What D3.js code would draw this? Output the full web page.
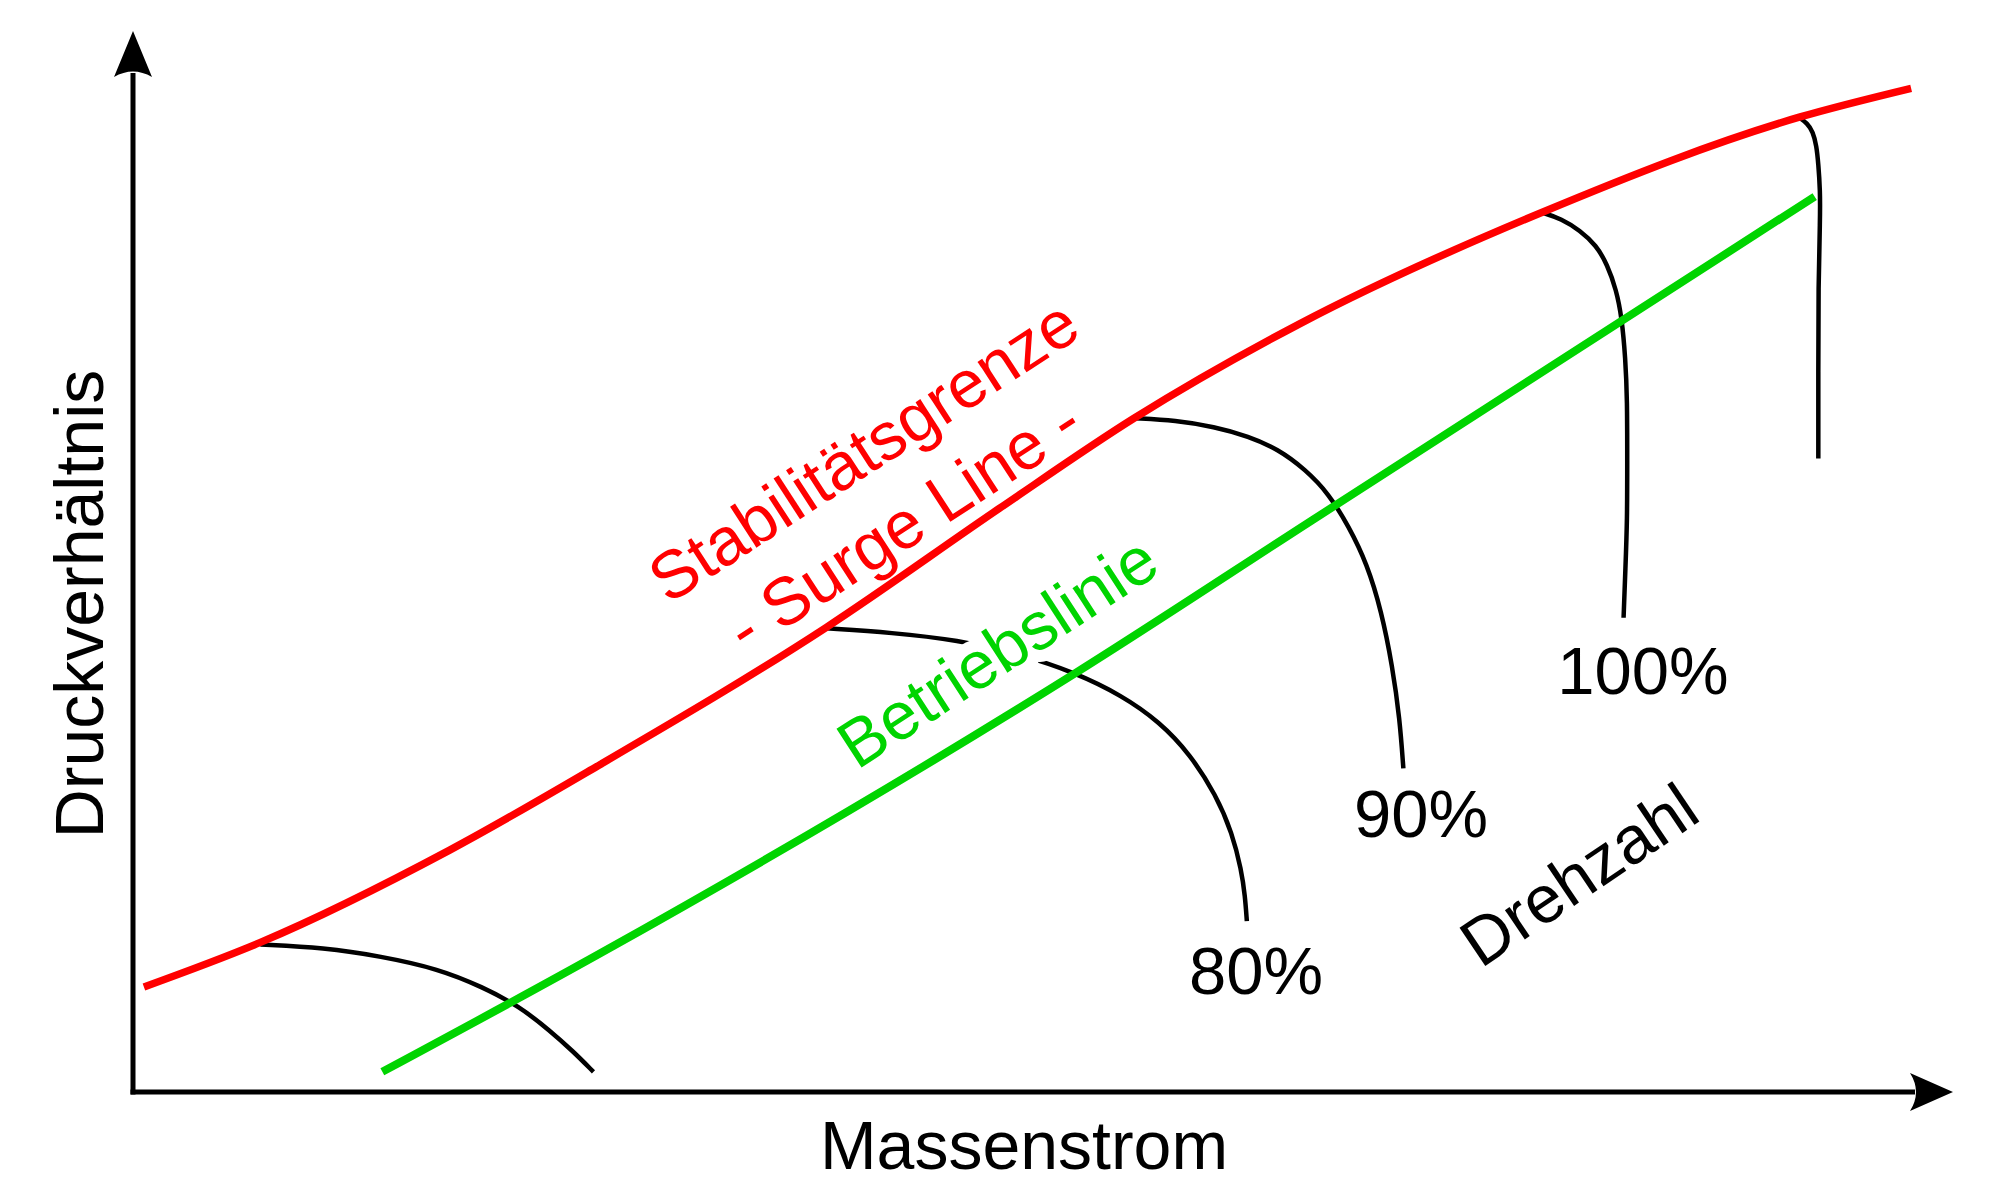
<!DOCTYPE html>
<html>
<head>
<meta charset="utf-8">
<script src="https://cdn.jsdelivr.net/npm/d3@7"></script>
<style>
    html, body { margin: 0; padding: 0; background: #fff; }
    svg { display: block; }
    text { font-family: "Liberation Sans", Arial, Helvetica, sans-serif; }
</style>
</head>
<body>
<div id="chart"></div>
<script>
// Verdichterkennfeld: Druckverhältnis über Massenstrom, beide Achsen relativ (0..100)

// Stabilitätsgrenze (Surge Line)
const surgeX = [0.6, 7.0, 17.4, 25.7, 38.1, 47.6, 55.0, 64.1, 77.4, 91.6, 97.7];
const surgeY = [9.9, 14.1, 22.8, 30.9, 43.8, 55.0, 63.5, 72.4, 82.9, 91.9, 94.6];

// Betriebslinie
const operX = [13.7, 25.7, 51.8, 64.8, 92.4];
const operY = [1.9, 13.1, 39.5, 53.9, 84.4];

// Drehzahllinien
const speedLowX = [7.0, 10.5, 13.6, 16.8, 19.2, 21.2, 22.9, 24.2, 25.3];
const speedLowY = [13.9, 13.6, 12.8, 11.6, 9.9, 8.1, 5.8, 3.8, 1.9];

const speed80X = [38.1, 41.7, 45.3, 48.7, 51.8, 54.3, 56.4, 58.1, 59.5, 60.4, 60.9, 61.1, 61.2];
const speed80Y = [43.7, 43.3, 42.6, 41.3, 39.5, 37.4, 34.9, 31.8, 28.0, 24.4, 20.9, 18.5, 16.1];

const speed90X = [55.0, 57.3, 59.4, 61.3, 62.9, 64.4, 65.7, 66.8, 67.8, 68.6, 69.2, 69.6, 69.8];
const speed90Y = [63.5, 63.3, 62.7, 61.8, 60.6, 58.7, 56.4, 53.3, 49.8, 45.3, 40.1, 35.2, 30.5];

const speed100X = [77.4, 78.5, 79.5, 80.4, 81.0, 81.5, 81.8, 82.0, 82.1, 82.1, 82.1, 82.0, 81.9];
const speed100Y = [82.9, 82.3, 81.2, 79.8, 78.0, 75.6, 73.0, 69.2, 65.2, 59.5, 53.9, 49.3, 44.7];

const speedTopX = [91.5, 92.0, 92.3, 92.5, 92.6, 92.7, 92.7, 92.6, 92.6, 92.6];
const speedTopY = [91.9, 91.3, 90.5, 89.2, 87.5, 85.0, 82.3, 76.0, 67.9, 59.7];

const speedLabels = ['80%', '90%', '100%'];

const width = 2000, height = 1189;
const fontSize = 67;

const svg = d3.select('#chart')
    .append('svg')
    .attr('width', width)
    .attr('height', height)
    .attr('viewBox', `0 0 ${width} ${height}`);

svg.append('rect').attr('width', width).attr('height', height).attr('fill', '#fff');

const x = d3.scaleLinear().domain([0, 100]).range([133, 1953]);
const y = d3.scaleLinear().domain([0, 100]).range([1092, 31]);

const zip = (xs, ys) => xs.map((v, i) => [v, ys[i]]);

// speed lines bend back, so they need a parametric curve
const curvyLine = d3.line()
    .x(d => x(d[0]))
    .y(d => y(d[1]))
    .curve(d3.curveBasis);

const monoLine = d3.line()
    .x(d => x(d[0]))
    .y(d => y(d[1]))
    .curve(d3.curveMonotoneX);

// speed lines first, red surge line goes on top of their ends
const speedLines = [
    zip(speedLowX, speedLowY),
    zip(speed80X, speed80Y),
    zip(speed90X, speed90Y),
    zip(speed100X, speed100Y),
    zip(speedTopX, speedTopY)
];

svg.append('g')
    .selectAll('path.speed')
    .data(speedLines)
    .enter()
    .append('path')
    .attr('class', 'speed')
    .attr('d', curvyLine)
    .attr('fill', 'none')
    .attr('stroke', '#000')
    .attr('stroke-width', 4.5);

svg.append('path')
    .attr('d', monoLine(zip(operX, operY)))
    .attr('fill', 'none')
    .attr('stroke', '#00d400')
    .attr('stroke-width', 8);

svg.append('path')
    .attr('d', monoLine(zip(surgeX, surgeY)))
    .attr('fill', 'none')
    .attr('stroke', '#ff0000')
    .attr('stroke-width', 7.5);

// Achsen mit Pfeilspitzen
const x0 = x(0), y0 = y(0), xTip = x(100), yTip = y(100);

svg.append('line')
    .attr('x1', x0).attr('y1', y0 + 2.5)
    .attr('x2', x0).attr('y2', yTip + 42)
    .attr('stroke', '#000').attr('stroke-width', 5);

svg.append('line')
    .attr('x1', x0 - 2.5).attr('y1', y0)
    .attr('x2', xTip - 38).attr('y2', y0)
    .attr('stroke', '#000').attr('stroke-width', 5);

svg.append('path')
    .attr('d', `M${x0},${yTip} L${x0 + 19},${yTip + 46} Q${x0},${yTip + 35} ${x0 - 19},${yTip + 46} Z`)
    .attr('fill', '#000');

svg.append('path')
    .attr('d', `M${xTip},${y0} L${xTip - 43},${y0 - 19} Q${xTip - 31},${y0} ${xTip - 43},${y0 + 19} Z`)
    .attr('fill', '#000');

// Beschriftung
const addText = (txt, px, py, opts = {}) => {
    const t = svg.append('text')
        .attr('transform', `translate(${px},${py}) rotate(${opts.angle || 0})`)
        .attr('text-anchor', 'middle')
        .attr('font-size', opts.size || fontSize)
        .attr('fill', opts.color || '#000')
        .text(txt);
    if (opts.halo) {
        t.attr('stroke', '#fff')
            .attr('stroke-width', opts.halo)
            .attr('stroke-linejoin', 'round')
            .style('paint-order', 'stroke');
    }
    return t;
};

addText('Druckverhältnis', 103, 604, { angle: -90, size: 68 });
addText('Massenstrom', 1024, 1169, { size: 68 });

addText('Stabilitätsgrenze', 876, 470, { angle: -33, color: '#ff0000' });
addText('- Surge Line -', 916, 544, { angle: -33, color: '#ff0000' });
addText('Betriebslinie', 1010, 671, { angle: -33, color: '#00d400', halo: 24 });
addText('Drehzahl', 1592, 894, { angle: -34 });

// Prozentangaben unter den Drehzahllinien
const labelPos = [[1256, 994], [1421, 837], [1643, 694]];
speedLabels.forEach((lbl, i) => addText(lbl, labelPos[i][0], labelPos[i][1]));
</script>
</body>
</html>
